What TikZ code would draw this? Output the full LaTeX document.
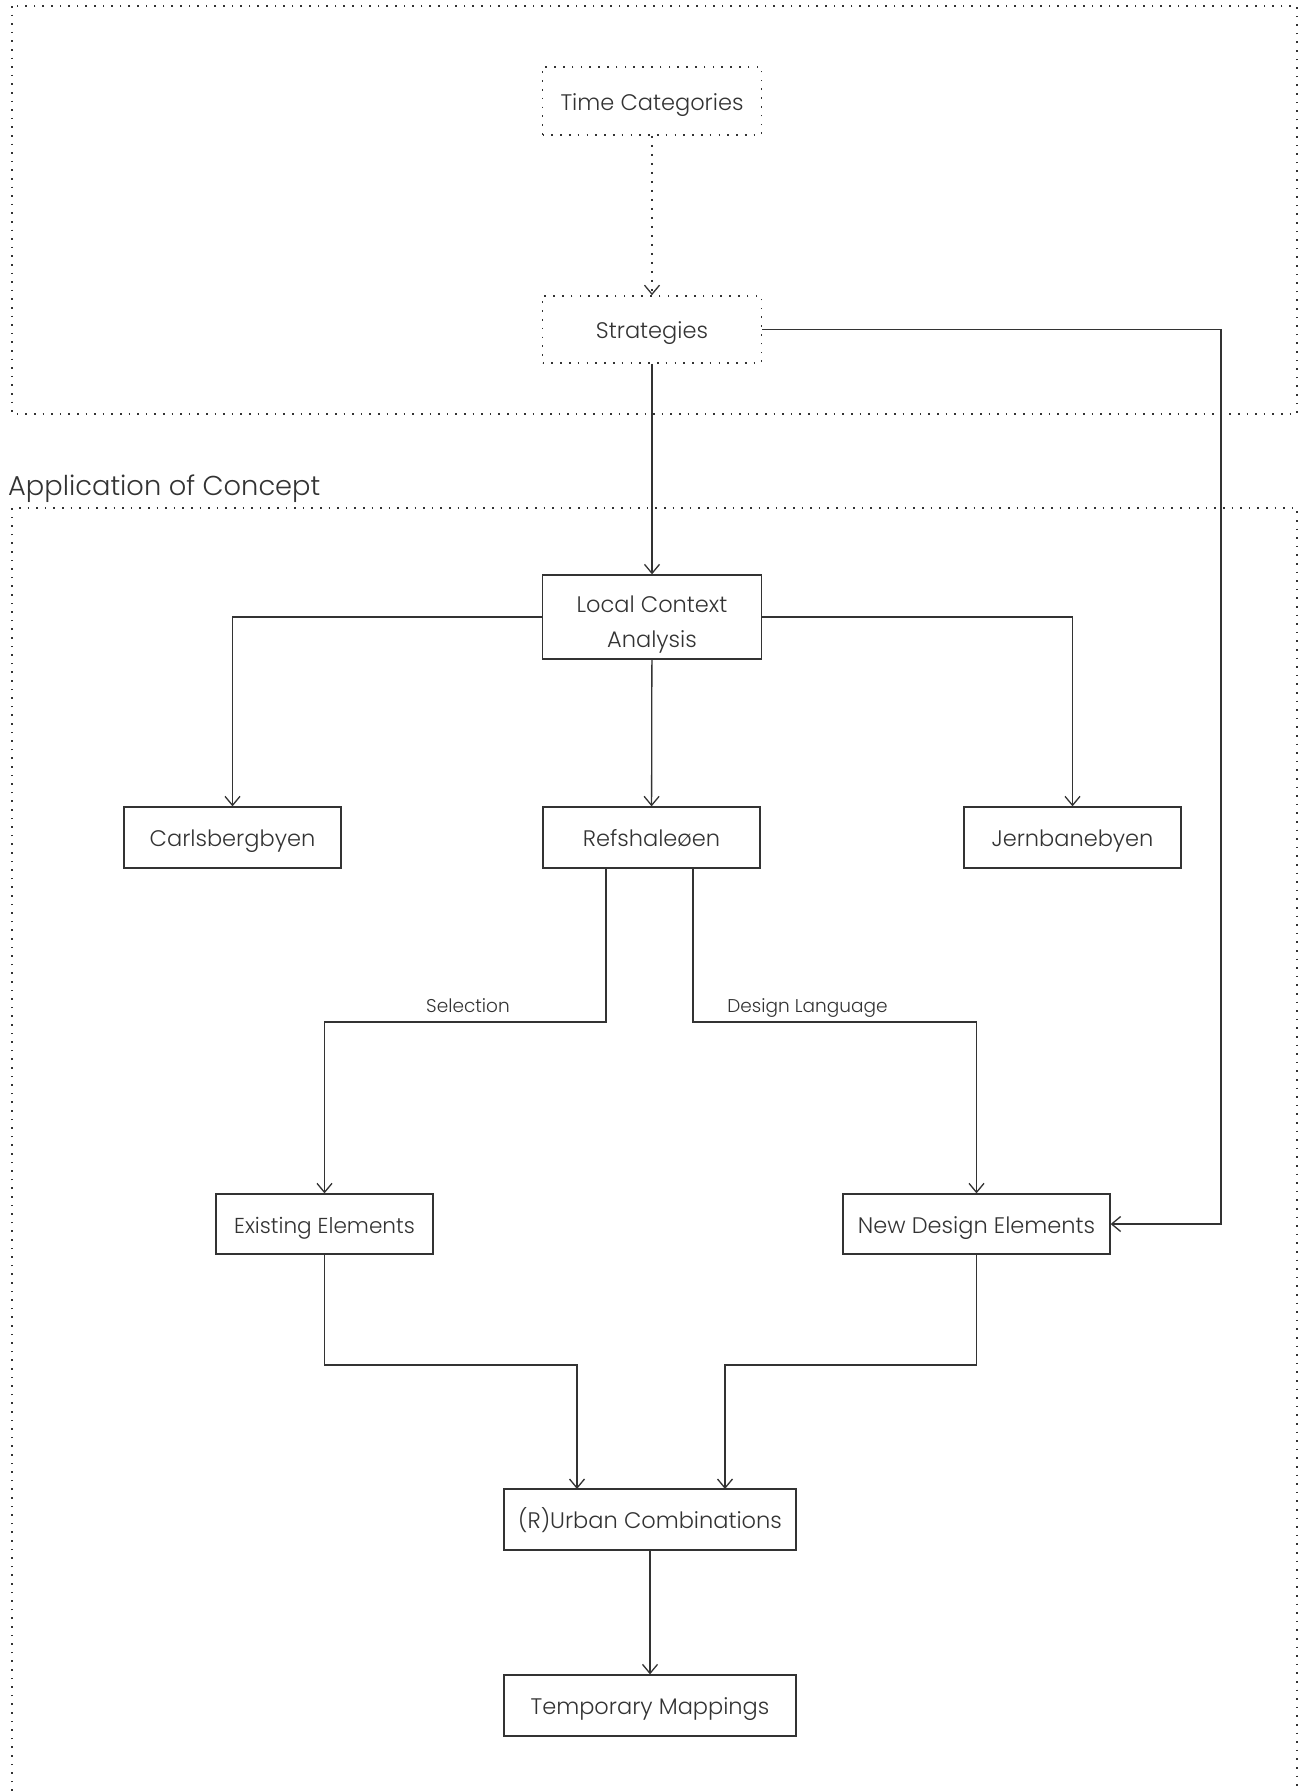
\documentclass[tikz,border=0pt]{standalone}
\usepackage{fontspec}
\IfFontExistsTF{Poppins Light}{\setmainfont{Poppins Light}}{\setmainfont{Poppins}}
\usetikzlibrary{arrows.meta}
\definecolor{ink}{HTML}{333333}
\tikzset{
  box/.style={draw=ink, line width=1.3pt, text=ink, minimum width=217pt, minimum height=61pt, inner sep=0pt, font=\fontsize{22.5}{35}\selectfont, text height=18pt, text depth=0pt},
  dotbox/.style={box, dash pattern=on 1.6pt off 7.2pt, line width=1.6pt},
  conn/.style={draw=ink, line width=1.3pt, -{Straight Barb[length=9pt,width=15pt,line width=1.3pt]}},
  frame/.style={draw=ink, line width=1.6pt, dash pattern=on 1.6pt off 7pt},
  lbl/.style={text=ink, font=\fontsize{18.5}{22}\selectfont, inner sep=0pt, anchor=base},
  title/.style={text=ink, font=\fontsize{27.3}{32}\selectfont, inner sep=0pt, anchor=base west},
}
\begin{document}
\begin{tikzpicture}[x=1pt,y=-1pt]
\useasboundingbox[fill=white] (0,0) rectangle (1303,1791);
% frames
\draw[frame] (12,6) rectangle (1297,414);
\draw[frame] (12,1791) -- (12,508) -- (1297,508) -- (1297,1791);
\node[title] (t2) at (8,495) {Application of Concept};
% nodes
\node[dotbox, minimum width=219pt, minimum height=68pt] (tc) at (652,101) {Time Categories};
\node[dotbox, minimum width=219pt, minimum height=67pt] (st) at (652,329.5) {Strategies};
\node[box, align=center, minimum width=219pt, minimum height=84pt, text height=, text depth=] (lca) at (652,617) {\rule{0pt}{31pt}Local Context\\Analysis};
\node[box] (ref) at (651.5,837.5) {Refshaleøen};
\node[box] (carl) at (232.5,837.5) {Carlsbergbyen};
\node[box] (jern) at (1072.5,837.5) {Jernbanebyen};
\node[box, minimum height=60pt, font=\fontsize{21.6}{35}\selectfont] (ex) at (324.5,1224) {Existing Elements};
\node[box, minimum width=267pt, minimum height=60pt] (nde) at (976.5,1224) {New Design Elements};
\node[box, minimum width=292pt] (urb) at (650,1519.5) {(R)Urban Combinations};
\node[box, minimum width=292pt] (tmp) at (650,1705.5) {Temporary Mappings};
% helper coordinates
\coordinate (c1) at (1221,329.5);
\coordinate (c2) at (1221,1224);
\coordinate (sL) at (606,1022);
\coordinate (sR) at (693,1022);
\coordinate (eL) at (325,1365);
\coordinate (nR) at (976.5,1365);
% connectors
\draw[conn, dash pattern=on 2pt off 7pt, line width=2pt] (tc) -- (st);
\draw[conn] (st) -- (lca);
\draw[conn] (st.east) -- (c1) -- (c2) -- (nde.east);
\draw[conn] (lca.west) -| (carl.north);
\draw[conn] (lca.east) -| (jern.north);
\draw[conn] (lca) -- (ref);
\draw[conn] (ref.south -| sL) -- (sL) -| (ex.north);
\draw[conn] (ref.south -| sR) -- (sR) -| (nde.north);
\draw[conn] (ex.south) -- (ex.south |- eL) -| (577,1489) coordinate (u1);
\draw[conn] (nde.south) -- (nR) -| (725,1489) coordinate (u2);
\draw[conn] (urb) -- (tmp);
% labels
\node[lbl] (selL) at (468,1012) {Selection};
\node[lbl] (dlL) at (807.5,1012) {Design Language};
\end{tikzpicture}
\end{document}
